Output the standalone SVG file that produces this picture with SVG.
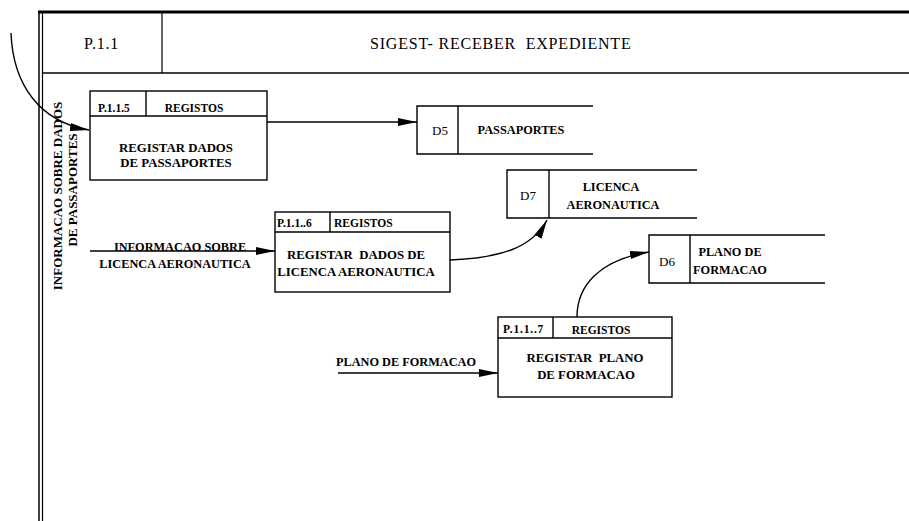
<svg xmlns="http://www.w3.org/2000/svg" width="909" height="521" viewBox="0 0 909 521">
  <style>
    .ln { fill: none; stroke: #000; stroke-width: 1.4; }
    .box { fill: #fff; stroke: #000; stroke-width: 1.4; }
    .t { font-family: "Liberation Serif", "Times New Roman", "DejaVu Serif", serif; fill: #000; white-space: pre; }
    .hd { font-size: 16px; letter-spacing: 0.8px; }
    .id { font-size: 11.5px; font-weight: bold; }
    .tag { font-size: 11.5px; font-weight: bold; }
    .main { font-size: 12.8px; font-weight: bold; }
    .ds { font-size: 12.3px; font-weight: bold; }
    .dn { font-size: 13px; }
    .fl { font-size: 12.3px; font-weight: bold; }
    .vt { font-size: 13px; font-weight: bold; }
  </style>
  <defs>
    <marker id="arrow" markerUnits="userSpaceOnUse" markerWidth="22" markerHeight="10" refX="19" refY="5" orient="auto">
      <path d="M0,1 L19,5 L0,9 Z" fill="#000"/>
    </marker>
  </defs>
  <rect width="909" height="521" fill="#fff"/>

  <!-- page frame and title block -->
  <g id="frame">
    <line x1="38" y1="12" x2="909" y2="12" stroke="#000" stroke-width="3"/>
    <line x1="39" y1="11" x2="39" y2="521" stroke="#000" stroke-width="1.5"/>
    <line x1="42.5" y1="12" x2="42.5" y2="521" stroke="#000" stroke-width="1.2"/>
    <line x1="42" y1="73" x2="909" y2="73" stroke="#000" stroke-width="1.4"/>
    <line x1="162" y1="12" x2="162" y2="73" stroke="#000" stroke-width="1.2"/>
    <text class="t hd" x="84" y="49" letter-spacing="1.2">P.1.1</text>
    <text class="t hd" x="370" y="49" xml:space="preserve">SIGEST- RECEBER  EXPEDIENTE</text>
  </g>

  <!-- process P.1.1.5 -->
  <g id="p115">
    <rect class="box" x="90" y="91" width="177" height="89"/>
    <line class="ln" x1="90" y1="116" x2="267" y2="116"/>
    <line class="ln" x1="146" y1="91" x2="146" y2="116"/>
    <text class="t id" x="98" y="112">P.1.1.5</text>
    <text class="t tag" x="194" y="112" text-anchor="middle">REGISTOS</text>
    <text class="t main" x="176" y="152" text-anchor="middle">REGISTAR DADOS</text>
    <text class="t main" x="176" y="167" text-anchor="middle">DE PASSAPORTES</text>
  </g>

  <!-- data store D5 -->
  <g id="d5">
    <path class="ln" d="M593,106 H417 V154 H593"/>
    <line class="ln" x1="458" y1="106" x2="458" y2="154"/>
    <text class="t dn" x="440" y="135" text-anchor="middle">D5</text>
    <text class="t ds" x="521" y="134" text-anchor="middle">PASSAPORTES</text>
  </g>

  <!-- data store D7 -->
  <g id="d7">
    <path class="ln" d="M697,170 H507 V218 H697"/>
    <line class="ln" x1="549" y1="170" x2="549" y2="218"/>
    <text class="t dn" x="528" y="200" text-anchor="middle">D7</text>
    <text class="t ds" x="611" y="191" text-anchor="middle">LICENCA</text>
    <text class="t ds" x="613" y="209" text-anchor="middle">AERONAUTICA</text>
  </g>

  <!-- process P.1.1..6 -->
  <g id="p116">
    <rect class="box" x="275" y="212" width="175" height="80"/>
    <line class="ln" x1="275" y1="232" x2="450" y2="232"/>
    <line class="ln" x1="330" y1="212" x2="330" y2="232"/>
    <text class="t id" x="277" y="227">P.1.1..6</text>
    <text class="t tag" x="334" y="227" font-size="10.6">REGISTOS</text>
    <text class="t main" x="356" y="259" text-anchor="middle" xml:space="preserve" font-size="13.2">REGISTAR  DADOS DE</text>
    <text class="t main" x="356" y="276" text-anchor="middle">LICENCA AERONAUTICA</text>
  </g>

  <!-- data store D6 -->
  <g id="d6">
    <path class="ln" d="M825,235 H649 V283 H825"/>
    <line class="ln" x1="690" y1="235" x2="690" y2="283"/>
    <text class="t dn" x="667" y="266" text-anchor="middle">D6</text>
    <text class="t ds" x="730" y="256" text-anchor="middle">PLANO DE</text>
    <text class="t ds" x="730" y="274" text-anchor="middle">FORMACAO</text>
  </g>

  <!-- process P.1.1..7 -->
  <g id="p117">
    <rect class="box" x="498" y="317" width="174" height="80"/>
    <line class="ln" x1="498" y1="338" x2="672" y2="338"/>
    <line class="ln" x1="553" y1="317" x2="553" y2="338"/>
    <text class="t id" x="503" y="333" letter-spacing="0.8">P.1.1..7</text>
    <text class="t tag" x="601" y="334" text-anchor="middle">REGISTOS</text>
    <text class="t main" x="585" y="362" text-anchor="middle" xml:space="preserve">REGISTAR  PLANO</text>
    <text class="t main" x="586" y="379" text-anchor="middle">DE FORMACAO</text>
  </g>

  <!-- data flows -->
  <g id="connectors">
    <path class="ln" d="M11,33 C13,85 40,122 89,130" marker-end="url(#arrow)"/>
    <line class="ln" x1="267" y1="122" x2="417" y2="122" marker-end="url(#arrow)"/>
    <line class="ln" x1="90" y1="251" x2="275" y2="251" marker-end="url(#arrow)"/>
    <path class="ln" d="M450,260 C500,258 532,248 547,220" marker-end="url(#arrow)"/>
    <line class="ln" x1="338" y1="373" x2="498" y2="373" marker-end="url(#arrow)"/>
    <path class="ln" d="M577,317 C577,285 600,260 649,252" marker-end="url(#arrow)"/>
  </g>

  <!-- flow labels -->
  <g id="labels">
    <text class="t vt" transform="translate(62,196) rotate(-90)" text-anchor="middle">INFORMACAO SOBRE DADOS</text>
    <text class="t vt" transform="translate(77,190) rotate(-90)" text-anchor="middle">DE PASSAPORTES</text>
    <text class="t fl" x="180" y="251" text-anchor="middle" font-size="12.8">INFORMACAO SOBRE</text>
    <text class="t fl" x="175" y="268" text-anchor="middle">LICENCA AERONAUTICA</text>
    <text class="t fl" x="406" y="366" text-anchor="middle">PLANO DE FORMACAO</text>
  </g>
</svg>
